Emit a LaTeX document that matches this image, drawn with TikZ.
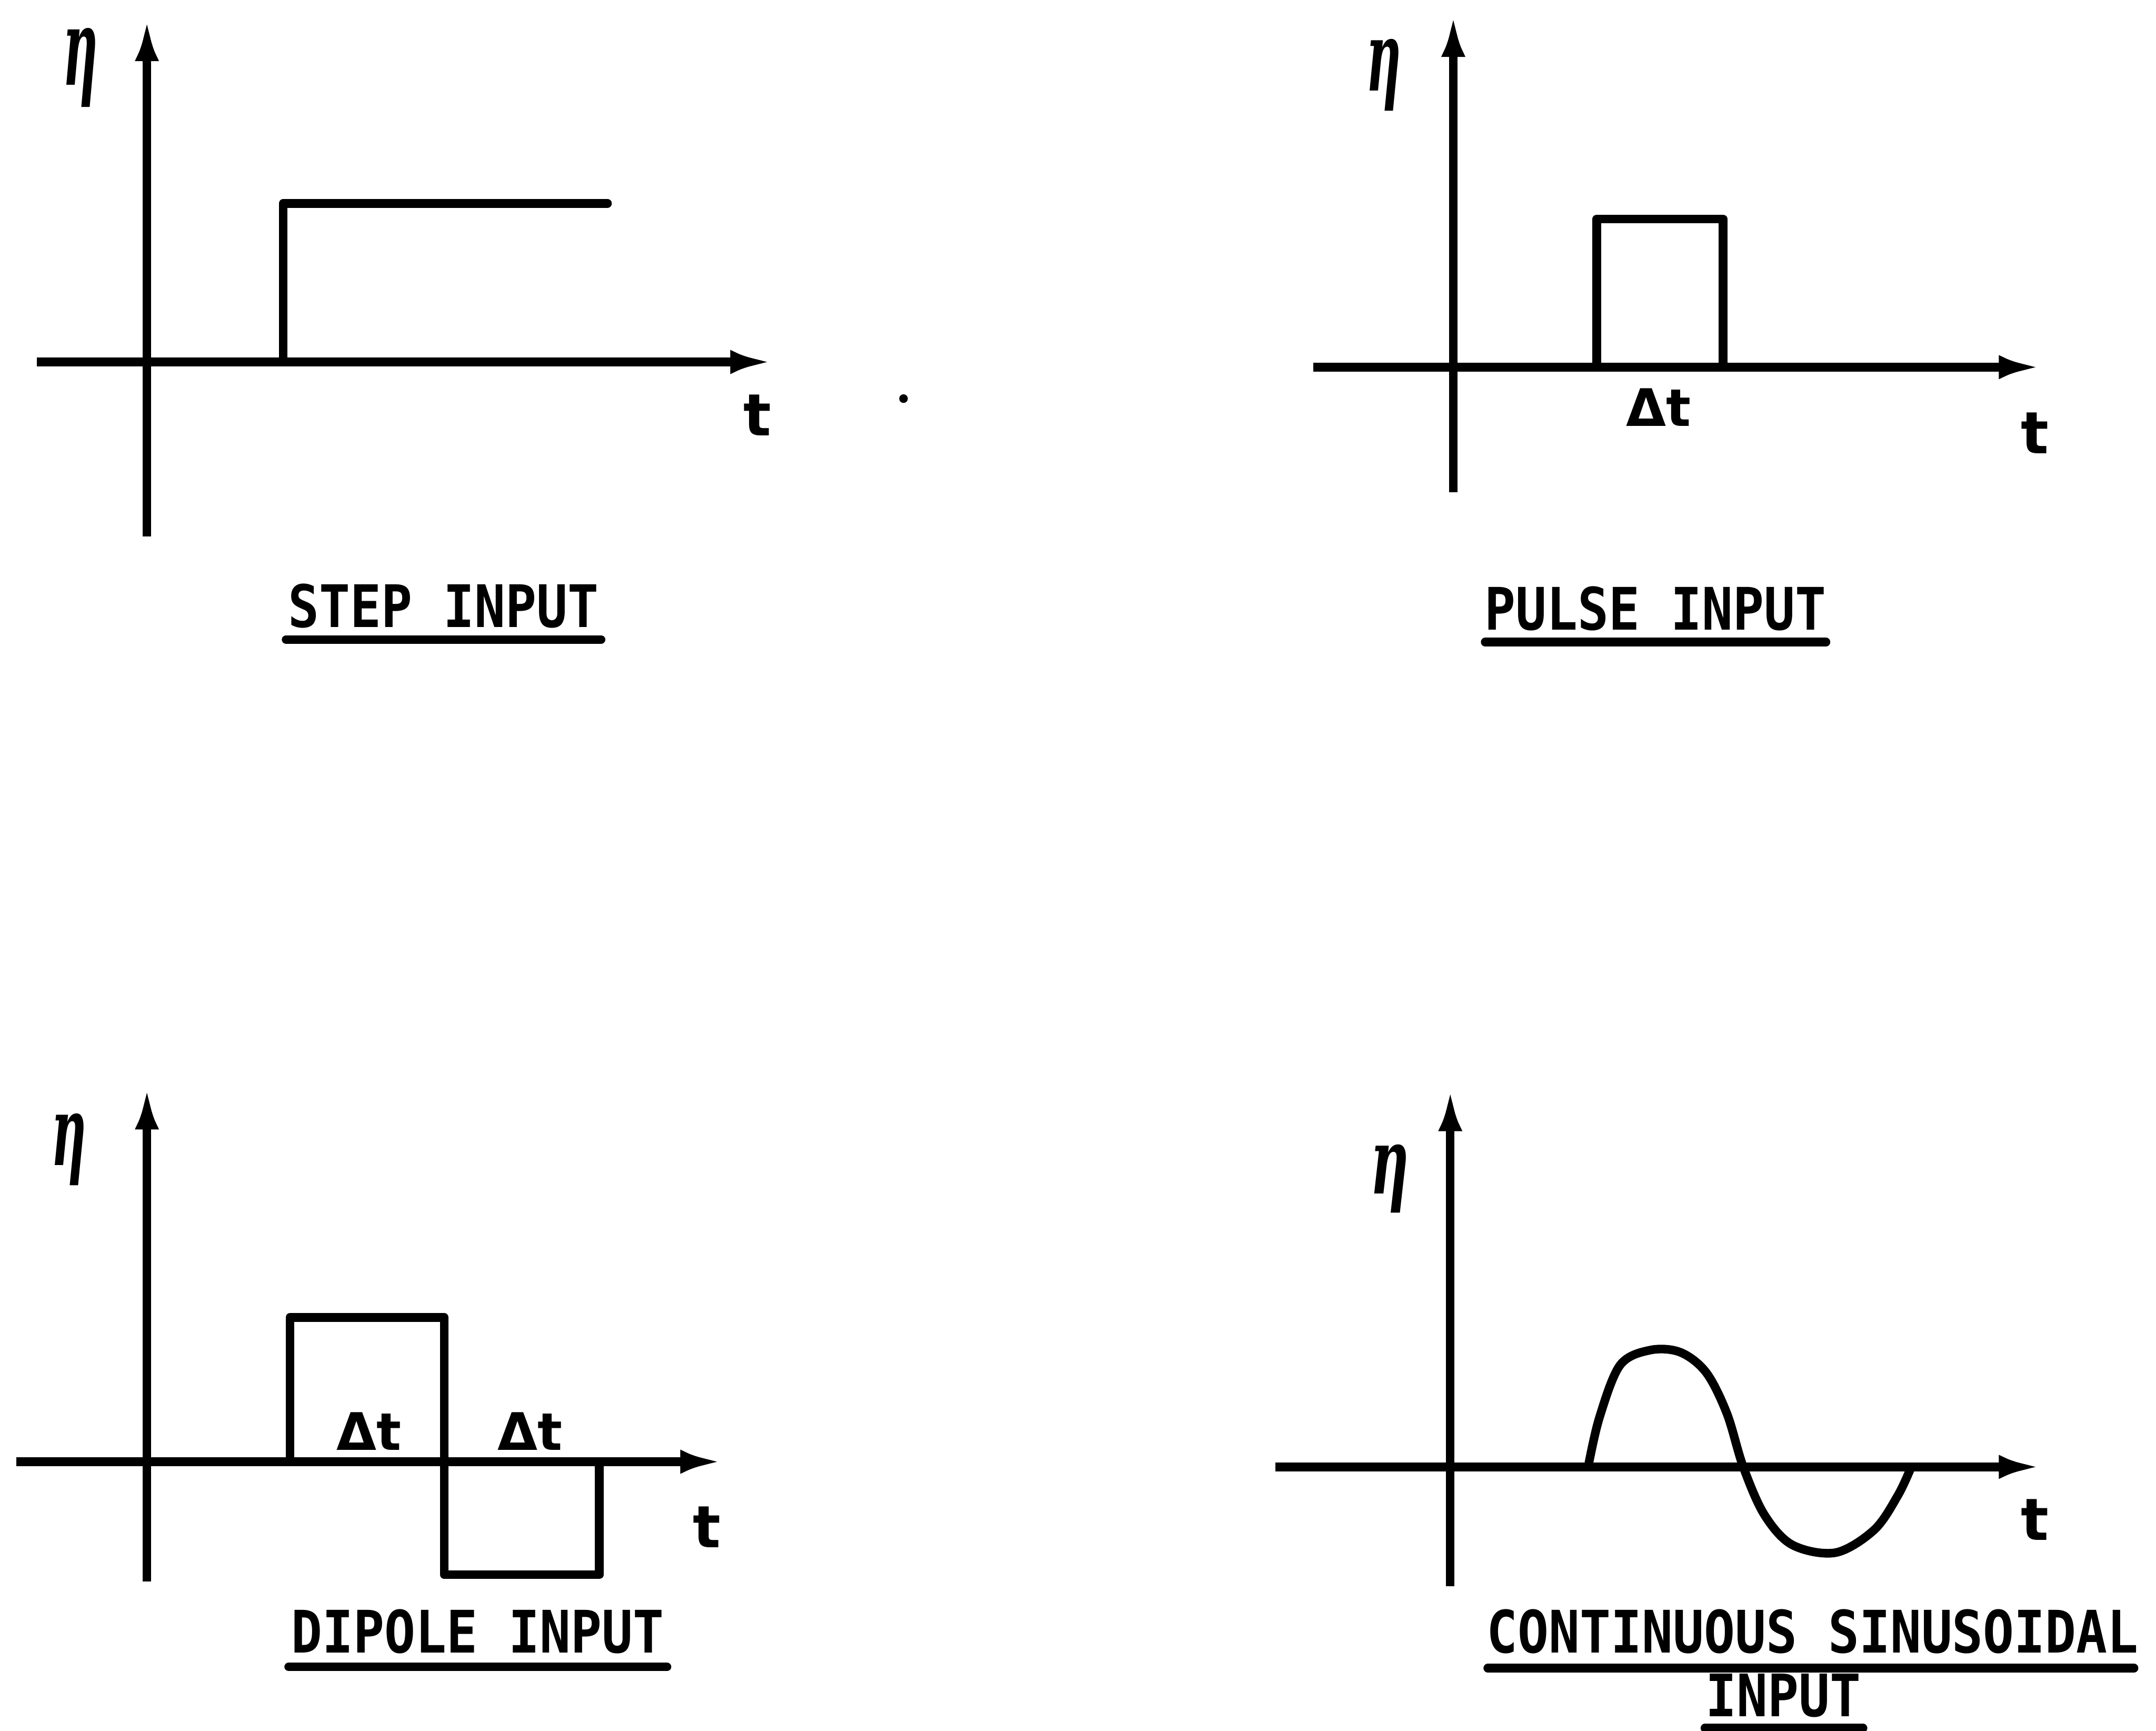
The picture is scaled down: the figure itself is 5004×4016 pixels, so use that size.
\documentclass[tikz,border=0pt]{standalone}
\usepackage{fontspec}
\newfontfamily\capfont[FakeStretch=0.88]{DejaVu Sans Mono}
\newfontfamily\handfont{DejaVu Sans}
\newfontfamily\etafont{DejaVu Serif}
\usetikzlibrary{arrows.meta}
\begin{document}
\begin{tikzpicture}[x=0.2pt,y=-0.2pt,
  ax/.style={line width=4pt,-{Latex[length=20pt,width=11pt]}},
  ln/.style={line width=4pt,line cap=round,line join=round},
  ul/.style={line width=4pt,line cap=round},
  captxt/.style={font=\capfont\bfseries\fontsize{27.2}{30}\selectfont,anchor=base,inner sep=0pt},
  eta/.style={font=\etafont\itshape\bfseries\fontsize{45}{45}\selectfont,inner sep=0pt},
  tl/.style={font=\handfont\bfseries\fontsize{27}{27}\selectfont,inner sep=0pt},
  dt/.style={font=\handfont\bfseries\fontsize{24}{24}\selectfont,inner sep=0pt}]
\path[fill=white,use as bounding box] (0,0) rectangle (5004,4016);

% ---------- Panel 1: step ----------
\coordinate (a1l) at (86,840); \coordinate (a1r) at (1795,840);
\coordinate (a1b) at (341,1245); \coordinate (a1t) at (341,42);
\draw[ax] (a1l) -- (a1r);
\draw[ax] (a1b) -- (a1t);
\coordinate (s1a) at (657,840); \coordinate (s1b) at (657,472); \coordinate (s1c) at (1410,472);
\draw[ln] (s1a) -- (s1b) -- (s1c);
\node[eta] (eta1) at (187,157) {\scalebox{0.5}[1.1]{η}};
\node[tl] (t1) at (1758,963) {t};
\node[captxt] (lab1) at (1029,1455) {STEP INPUT};
\coordinate (u1a) at (664,1484); \coordinate (u1b) at (1395,1484);
\draw[ul] (u1a) -- (u1b);

% ---------- Panel 2: pulse ----------
\coordinate (a2l) at (3048,852); \coordinate (a2r) at (4739,852);
\coordinate (a2b) at (3373,1142); \coordinate (a2t) at (3373,32);
\draw[ax] (a2l) -- (a2r);
\draw[ax] (a2b) -- (a2t);
\coordinate (p2a) at (3706,852); \coordinate (p2b) at (3706,508);
\coordinate (p2c) at (3999,508); \coordinate (p2d) at (3999,852);
\draw[ln] (p2a) -- (p2b) -- (p2c) -- (p2d);
\node[eta] (eta2) at (3212,174) {\scalebox{0.5}[1]{η}};
\node[dt] (dt2) at (3850,945) {Δt};
\node[tl] (t2) at (4723,1005) {t};
\node[captxt] (lab2) at (3842,1462) {PULSE INPUT};
\coordinate (u2a) at (3447,1490); \coordinate (u2b) at (4238,1490);
\draw[ul] (u2a) -- (u2b);
\fill (2097,925) circle (10);

% ---------- Panel 3: dipole ----------
\coordinate (a3l) at (38,3392); \coordinate (a3r) at (1679,3392);
\coordinate (a3b) at (341,3670); \coordinate (a3t) at (341,2521);
\draw[ax] (a3l) -- (a3r);
\draw[ax] (a3b) -- (a3t);
\coordinate (d3a) at (673,3392); \coordinate (d3b) at (673,3057);
\coordinate (d3c) at (1031,3057); \coordinate (d3d) at (1031,3654);
\coordinate (d3e) at (1391,3654); \coordinate (d3f) at (1391,3400);
\draw[ln] (d3a) -- (d3b) -- (d3c) -- (d3d) -- (d3e) -- (d3f);
\node[eta] (eta3) at (160,2667) {\scalebox{0.5}[1]{η}};
\node[dt] (dt3a) at (856,3321) {Δt};
\node[dt] (dt3b) at (1230,3321) {Δt};
\node[tl] (t3) at (1641,3544) {t};
\node[captxt] (lab3) at (1109,3836) {DIPOLE INPUT};
\coordinate (u3a) at (670,3868); \coordinate (u3b) at (1548,3868);
\draw[ul] (u3a) -- (u3b);

% ---------- Panel 4: sinusoid ----------
\coordinate (a4l) at (2960,3404); \coordinate (a4r) at (4739,3404);
\coordinate (a4b) at (3366,3681); \coordinate (a4t) at (3366,2525);
\draw[ax] (a4l) -- (a4r);
\draw[ax] (a4b) -- (a4t);
\draw[ln] plot[smooth,tension=0.55] coordinates {(3686,3404) (3712,3290) (3760,3168) (3830,3133) (3900,3138) (3960,3185) (4008,3280) (4046,3404) (4095,3515) (4160,3585) (4260,3603) (4350,3550) (4405,3470) (4436,3404)};
\node[eta] (eta4) at (3226,2735) {\scalebox{0.55}[0.95]{η}};
\node[tl] (t4) at (4723,3526) {t};
\node[captxt] (lab4) at (4207,3836) {CONTINUOUS SINUSOIDAL};
\coordinate (u4a) at (3453,3871); \coordinate (u4b) at (4953,3871);
\draw[ul] (u4a) -- (u4b);
\node[captxt] (lab4b) at (4139,3983) {INPUT};
\coordinate (u5a) at (3957,4010); \coordinate (u5b) at (4324,4010);
\draw[ul] (u5a) -- (u5b);
\end{tikzpicture}
\end{document}
